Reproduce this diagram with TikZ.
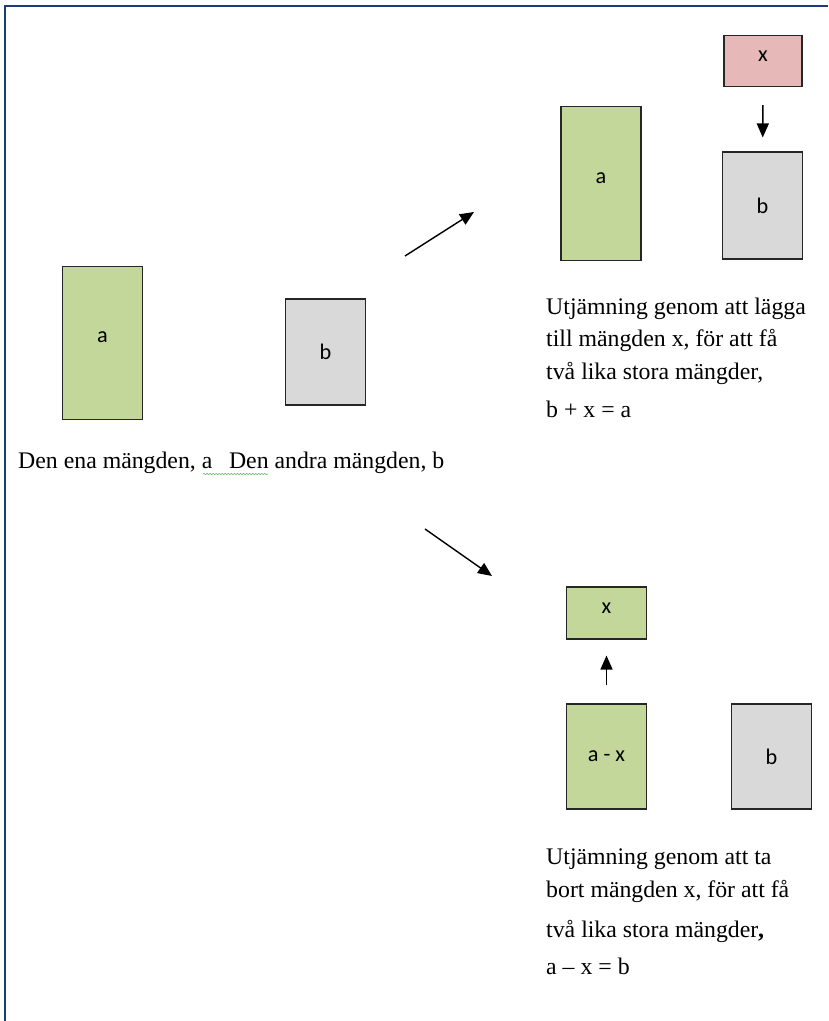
\documentclass[tikz,border=0pt]{standalone}
\usepackage{fontspec}
\setmainfont{Liberation Serif}
\newfontfamily\boxfont{Carlito}
\usetikzlibrary{arrows.meta,decorations.pathmorphing}
\usepackage{xcolor}
\definecolor{framec}{HTML}{1F3A78}
\definecolor{qgreen}{HTML}{C4D79B}
\definecolor{qgray}{HTML}{D9D9D9}
\definecolor{qpink}{HTML}{E6B8B7}
\definecolor{spell}{HTML}{5DB35D}

\begin{document}
\begin{tikzpicture}[
  x=0.03cm, y=-0.03cm,
  font=\fontsize{20.3}{27.5}\selectfont,
  qty/.style={draw=black!85, line width=0.9pt, inner sep=0pt, minimum width=2.4cm, font=\boxfont\fontsize{19}{21}\selectfont},
  tall/.style={qty, fill=qgreen, minimum height=4.6cm, text depth=10pt},
  mid/.style={qty, fill=qgray, minimum height=3.18cm},
  small/.style={qty, minimum height=1.53cm, text depth=8pt},
  note/.style={anchor=north west, align=left, inner sep=0pt},
  >={Triangle[length=0.42cm, width=0.36cm]}
]
\useasboundingbox (0,0) rectangle (828,1021);

% frame
\draw[framec, line width=2pt] (5,1021) -- (5,6) -- (828,6);

% start: two quantities
\node[tall] (a) at (102.5,343) {a};
\node[mid] (b) at (325.5,352) {b};
\node[anchor=base west, inner sep=0pt] (cap) at (18,468) {Den ena mängden, a\hspace{0.5cm}Den andra mängden, b};
\draw[spell, line width=0.5pt, decorate, decoration={snake, amplitude=0.5pt, segment length=2.6pt}] (203,474) -- (268,474);

% adding x
\node[tall] (a1) at (601,183.5) {a};
\node[small, fill=qpink, minimum width=2.34cm] (x1) at (763,61) {x};
\node[mid, minimum height=3.21cm] (b1) at (762.5,205.5) {b};
\node[note] (t1) at (546,298) {Utjämning genom att lägga\\till mängden x, för att få\\två lika stora mängder,\\[5pt]b + x = a};

% removing x
\node[small, fill=qgreen, minimum height=1.56cm] (x2) at (606.5,613) {x};
\node[qty, fill=qgreen, minimum height=3.15cm] (ax) at (606.5,756.5) {a - x};
\node[mid, minimum height=3.15cm] (b2) at (771.5,756.5) {b};
\node[note] (t2) at (546,849) {Utjämning genom att ta\\bort mängden x, för att få\\[7pt]två lika stora mängder\textbf{,}\\[4pt]a -- x = b};

% arrows
\coordinate (up0) at (405,256);
\coordinate (up1) at (474,212);
\coordinate (dn0) at (425,529);
\coordinate (dn1) at (492,576);
\draw[->, line width=1.2pt] (up0) -- (up1);
\draw[->, line width=1.2pt] (dn0) -- (dn1);
\draw[->, line width=1.2pt, shorten <=0.54cm, shorten >=0.42cm] (x1) -- (b1);
\draw[->, line width=1.2pt, shorten <=0.54cm, shorten >=0.48cm] (ax) -- (x2);

\end{tikzpicture}
\end{document}
